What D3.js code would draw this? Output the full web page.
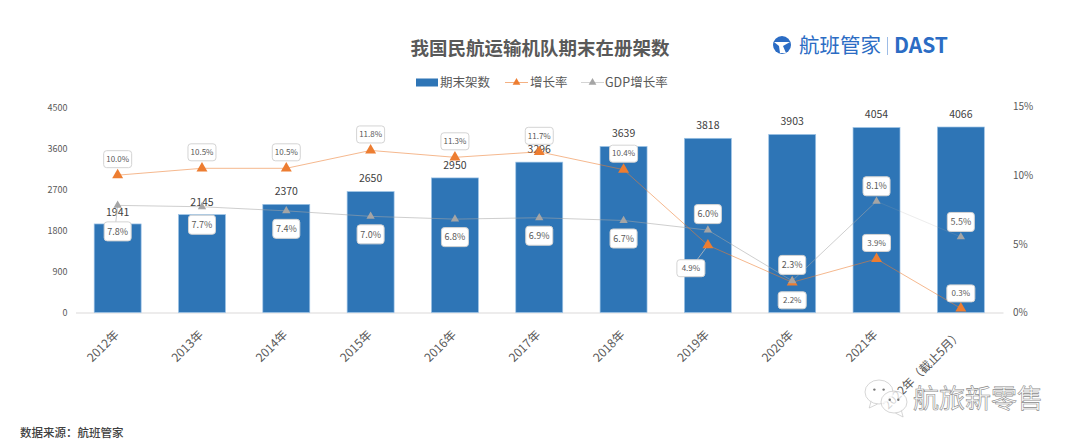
<!DOCTYPE html>
<html>
<head>
<meta charset="utf-8">
<script src="https://cdn.jsdelivr.net/npm/d3@7"></script>
<style>
html, body { margin: 0; padding: 0; background: #fff; }
svg { display: block; }
text { font-family: "Noto Sans CJK SC", "Noto Sans", sans-serif; }
</style>
</head>
<body>
<script>
var categories = ["2012年", "2013年", "2014年", "2015年", "2016年", "2017年", "2018年", "2019年", "2020年", "2021年", "2022年（截止5月）"];
var fleet = [1941, 2145, 2370, 2650, 2950, 3296, 3639, 3818, 3903, 4054, 4066];
var growth = [10.0, 10.5, 10.5, 11.8, 11.3, 11.7, 10.4, 4.9, 2.2, 3.9, 0.3];
var gdp = [7.8, 7.7, 7.4, 7.0, 6.8, 6.9, 6.7, 6.0, 2.3, 8.1, 5.5];
var leftTicks = [0, 900, 1800, 2700, 3600, 4500];
var rightTicks = [0, 5, 10, 15];

// label box offsets from the marker, set by hand per point
var growthOffsets = [[0, -16], [0, -16], [0, -16], [0, -16], [0, -16], [0, -16], [0, -16], [-17, 23], [0, 18], [0, -16], [0, -15]];
var gdpOffsets = [[0, 26], [0, 18], [0, 18], [0, 18], [0, 18], [0, 18], [0, 18], [0, -16], [0, -16], [0, -15], [0, -15]];
var fleetOffsets = [-12, -12, -13, -13, -13, -13, -13, -13, -13, -13, -13];

var width = 1080, height = 446;
var svg = d3.select("body").append("svg").attr("width", width).attr("height", height);

var x = d3.scaleBand().domain(categories).range([75.5, 1003]).paddingInner(0.443).paddingOuter(0.2215);
var y = d3.scaleLinear().domain([0, 4500]).range([312.5, 107.2]);
var yRate = d3.scaleLinear().domain([0, 15]).range([312.5, 106.5]);
var cx = function(i) { return x(categories[i]) + x.bandwidth() / 2; };

// title
svg.append("text").attr("x", 540).attr("y", 54.5).attr("text-anchor", "middle")
	.attr("font-size", 18.5).attr("font-weight", 700).attr("fill", "#595959")
	.text("我国民航运输机队期末在册架数");

// logo
svg.append("circle").attr("cx", 782).attr("cy", 45).attr("r", 9).attr("fill", "#2b6cc4");
svg.append("path").attr("d", "M774 42 L790 42 L783 46 L786 53 L780 53 L779 46 Z").attr("fill", "#fff");
svg.append("text").attr("x", 799).attr("y", 53).attr("font-size", 20.5).attr("font-weight", 400).attr("fill", "#2b6cc4").text("航班管家");
svg.append("line").attr("x1", 887.5).attr("x2", 887.5).attr("y1", 37).attr("y2", 55).attr("stroke", "#9dbce6");
svg.append("text").attr("x", 894).attr("y", 53).attr("font-size", 21).attr("font-weight", 700).attr("fill", "#2b6cc4").text("DAST");

// legend
svg.append("rect").attr("x", 416).attr("y", 78.5).attr("width", 22).attr("height", 8).attr("fill", "#2e75b6");
svg.append("text").attr("x", 440).attr("y", 87).attr("font-size", 12.5).attr("fill", "#595959").text("期末架数");
svg.append("line").attr("x1", 505).attr("x2", 528).attr("y1", 82.5).attr("y2", 82.5).attr("stroke", "#f4b183");
svg.append("path").attr("d", d3.symbol(d3.symbolTriangle, 26)).attr("transform", "translate(516.5,82.5)").attr("fill", "#ed7d31");
svg.append("text").attr("x", 530).attr("y", 87).attr("font-size", 12.5).attr("fill", "#595959").text("增长率");
svg.append("line").attr("x1", 581).attr("x2", 604).attr("y1", 82.5).attr("y2", 82.5).attr("stroke", "#d4d4d4");
svg.append("path").attr("d", d3.symbol(d3.symbolTriangle, 26)).attr("transform", "translate(592.5,82.5)").attr("fill", "#a5a5a5");
svg.append("text").attr("x", 605).attr("y", 87).attr("font-size", 12.5).attr("fill", "#595959").text("GDP增长率");

// axes
var leftAxis = svg.append("g").attr("transform", "translate(75.5,0)")
	.call(d3.axisLeft(y).tickValues(leftTicks).tickSize(0).tickPadding(8).tickFormat(d3.format("d")));
var rightAxis = svg.append("g").attr("transform", "translate(1003,0)")
	.call(d3.axisRight(yRate).tickValues(rightTicks).tickSize(0).tickPadding(10).tickFormat(function(d) { return d + "%"; }));
var bottomAxis = svg.append("g").attr("transform", "translate(0,312.5)")
	.call(d3.axisBottom(x).tickSize(0));

leftAxis.select(".domain").remove();
rightAxis.select(".domain").remove();
bottomAxis.select(".domain").attr("stroke", "#e7e6e6").attr("stroke-width", 1.5);
leftAxis.selectAll("text").attr("font-size", 9).attr("fill", "#595959");
rightAxis.selectAll("text").attr("font-size", 10).attr("fill", "#595959");
bottomAxis.selectAll("text").attr("font-size", 12).attr("fill", "#595959")
	.attr("text-anchor", "end").attr("dy", 0).attr("y", 0)
	.attr("transform", "translate(2,23) rotate(-45)");

// bars
svg.append("g").selectAll("rect").data(fleet).join("rect")
	.attr("x", function(d, i) { return x(categories[i]); })
	.attr("y", function(d) { return y(d); })
	.attr("width", x.bandwidth())
	.attr("height", function(d) { return y(0) - y(d); })
	.attr("fill", "#2e75b6")
	.attr("stroke", "#9dc3e6")
	.attr("stroke-width", 0.7);

svg.append("g").selectAll("text").data(fleet).join("text")
	.attr("x", function(d, i) { return cx(i); })
	.attr("y", function(d, i) { return y(d) + fleetOffsets[i]; })
	.attr("dy", "0.35em")
	.attr("text-anchor", "middle")
	.attr("font-size", 10.5)
	.attr("fill", "#404040")
	.text(function(d) { return d; });

// gdp line, last segment fades out in the original
var rateLine = d3.line().x(function(d) { return cx(d.i); }).y(function(d) { return yRate(d.v); });
var gdpPoints = gdp.map(function(v, i) { return {i: i, v: v}; });
var growthPoints = growth.map(function(v, i) { return {i: i, v: v}; });

svg.append("path").attr("d", rateLine(gdpPoints.slice(0, 10)))
	.attr("fill", "none").attr("stroke", "#a5a5a5").attr("stroke-opacity", 0.55).attr("stroke-width", 1);
svg.append("path").attr("d", rateLine(gdpPoints.slice(9)))
	.attr("fill", "none").attr("stroke", "#a5a5a5").attr("stroke-opacity", 0.2).attr("stroke-width", 1);
svg.append("path").attr("d", rateLine(growthPoints))
	.attr("fill", "none").attr("stroke", "#ed7d31").attr("stroke-opacity", 0.55).attr("stroke-width", 1);

// leader from the first gdp marker to its label
svg.append("line")
	.attr("x1", cx(0)).attr("y1", yRate(gdp[0]))
	.attr("x2", cx(0) - 2).attr("y2", yRate(gdp[0]) + gdpOffsets[0][1] - 8)
	.attr("stroke", "#bfbfbf").attr("stroke-width", 0.8);
// leader for 4.9%
svg.append("line")
	.attr("x1", cx(7)).attr("y1", yRate(growth[7]))
	.attr("x2", cx(7) + growthOffsets[7][0]).attr("y2", yRate(growth[7]) + growthOffsets[7][1])
	.attr("stroke", "#bfbfbf").attr("stroke-width", 0.8);

function markers(values, color, size) {
	svg.append("g").selectAll("path").data(values).join("path")
		.attr("d", d3.symbol(d3.symbolTriangle, size))
		.attr("transform", function(d, i) { return "translate(" + cx(i) + "," + yRate(d) + ")"; })
		.attr("fill", color);
}
markers(growth, "#ed7d31", 52);
markers(gdp, "#a5a5a5", 30);

function rateLabels(values, offsets, boxW, boxH, fontSize) {
	var g = svg.append("g").selectAll("g").data(values).join("g")
		.attr("transform", function(d, i) {
			return "translate(" + (cx(i) + offsets[i][0]) + "," + (yRate(d) + offsets[i][1]) + ")";
		});
	g.append("rect")
		.attr("x", -boxW / 2).attr("y", -boxH / 2)
		.attr("width", boxW).attr("height", boxH)
		.attr("rx", 3)
		.attr("fill", "#fff")
		.attr("stroke", "#d4d4d4")
		.attr("stroke-width", 1);
	g.append("text")
		.attr("text-anchor", "middle")
		.attr("dy", "0.35em")
		.attr("font-size", fontSize)
		.attr("fill", "#595959")
		.text(function(d) { return d.toFixed(1) + "%"; });
}
rateLabels(growth, growthOffsets, 28, 17, 8);
rateLabels(gdp, gdpOffsets, 27, 19, 9);

// source
svg.append("text").attr("x", 20).attr("y", 437).attr("font-size", 11.5).attr("font-weight", 500).attr("fill", "#404040")
	.text("数据来源：航班管家");

// wechat watermark
function bubble(bx, by, rx, ry, tailDir) {
	var g = svg.append("g").attr("transform", "translate(" + bx + "," + by + ")");
	g.append("path")
		.attr("d", "M" + (tailDir * rx * 0.55) + " " + (ry * 0.7) + " L" + (tailDir * rx * 0.7) + " " + (ry + 4) + " L" + (tailDir * rx * 0.1) + " " + ry)
		.attr("fill", "#fff").attr("stroke", "#bbb").attr("stroke-width", 0.6);
	g.append("ellipse").attr("rx", rx).attr("ry", ry).attr("fill", "#fff").attr("fill-opacity", 0.75).attr("stroke", "#bbb").attr("stroke-width", 0.6);
	g.append("circle").attr("cx", -rx * 0.33).attr("cy", -ry * 0.2).attr("r", 1.2).attr("fill", "#777");
	g.append("circle").attr("cx", rx * 0.33).attr("cy", -ry * 0.2).attr("r", 1.2).attr("fill", "#777");
}
bubble(879, 392, 14, 12, -1);
bubble(894, 402, 13, 11, 1);
svg.append("text").attr("x", 913).attr("y", 408).attr("font-size", 26)
	.attr("fill", "#fff").attr("stroke", "#8c8c8c").attr("stroke-width", 0.6)
	.text("航旅新零售");
</script>
</body>
</html>
